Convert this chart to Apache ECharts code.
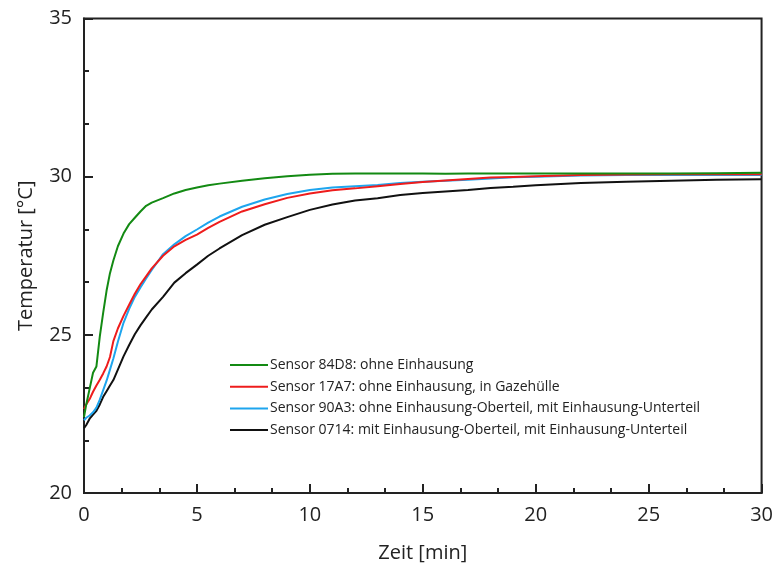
<!DOCTYPE html>
<html>
<head>
<meta charset="utf-8">
<script src="https://cdn.jsdelivr.net/npm/echarts@6/dist/echarts.min.js"></script>
<style>html,body{margin:0;padding:0;background:#fff}#c{width:776px;height:570px}</style>
</head>
<body>
<div id="c"></div>
<script>
var times = [0, 0.1, 0.25, 0.4, 0.55, 0.7, 0.85, 1.0, 1.15, 1.3, 1.5, 1.75, 2.0, 2.25, 2.5, 2.75, 3.0, 3.5, 4, 4.5, 5, 5.5, 6, 7, 8, 9, 10, 11, 12, 13, 14, 15, 16, 17, 18, 19, 20, 22, 24, 26, 28, 30];

var sensor84D8 = [22.4, 22.8, 23.3, 23.8, 24.0, 24.95, 25.7, 26.4, 26.95, 27.35, 27.8, 28.2, 28.5, 28.7, 28.9, 29.08, 29.18, 29.32, 29.47, 29.58, 29.66, 29.73, 29.78, 29.87, 29.95, 30.01, 30.06, 30.09, 30.1, 30.1, 30.1, 30.1, 30.09, 30.1, 30.1, 30.1, 30.1, 30.1, 30.1, 30.1, 30.11, 30.12];

var sensor17A7 = [22.65, 22.8, 22.97, 23.2, 23.4, 23.58, 23.78, 24.0, 24.3, 24.8, 25.2, 25.6, 25.95, 26.3, 26.6, 26.85, 27.1, 27.5, 27.8, 28.0, 28.17, 28.38, 28.57, 28.9, 29.13, 29.33, 29.47, 29.57, 29.63, 29.7, 29.77, 29.83, 29.88, 29.93, 29.97, 29.99, 30.01, 30.05, 30.07, 30.08, 30.08, 30.08];

var sensor90A3 = [22.3, 22.38, 22.45, 22.55, 22.7, 22.95, 23.25, 23.55, 23.9, 24.25, 24.78, 25.38, 25.82, 26.2, 26.5, 26.78, 27.05, 27.55, 27.86, 28.12, 28.33, 28.55, 28.74, 29.05, 29.28, 29.45, 29.58, 29.66, 29.7, 29.74, 29.8, 29.84, 29.87, 29.9, 29.94, 29.98, 30.0, 30.04, 30.05, 30.05, 30.05, 30.05];

var sensor0714 = [22.05, 22.15, 22.35, 22.48, 22.6, 22.8, 23.04, 23.22, 23.4, 23.57, 23.9, 24.32, 24.68, 25.02, 25.3, 25.55, 25.8, 26.2, 26.65, 26.95, 27.22, 27.5, 27.73, 28.15, 28.48, 28.72, 28.95, 29.12, 29.25, 29.32, 29.42, 29.48, 29.53, 29.58, 29.64, 29.68, 29.73, 29.8, 29.84, 29.87, 29.9, 29.92];

var seriesNames = [
  'Sensor 84D8: ohne Einhausung',
  'Sensor 17A7: ohne Einhausung, in Gazehülle',
  'Sensor 90A3: ohne Einhausung-Oberteil, mit Einhausung-Unterteil',
  'Sensor 0714: mit Einhausung-Oberteil, mit Einhausung-Unterteil'
];
var seriesValues = [sensor84D8, sensor17A7, sensor90A3, sensor0714];
var seriesColors = ['#138a13', '#ee1c1c', '#1ea5ee', '#111111'];

function pairs(vals) { return times.map(function (t, i) { return [t, vals[i]]; }); }

var font = 'Open Sans';
var chart = echarts.init(document.getElementById('c'), null, {renderer: 'canvas'});
chart.setOption({
  animation: false,
  backgroundColor: '#fff',
  textStyle: {fontFamily: font},
  grid: {left: 84, right: 13, top: 18.5, bottom: 77, show: true, borderColor: '#222', borderWidth: 2, backgroundColor: 'transparent'},
  legend: {
    orient: 'vertical', left: 225, top: 353, itemWidth: 38, itemHeight: 2, itemGap: 7.7,
    icon: 'rect',
    textStyle: {fontFamily: font, fontSize: 14, color: '#222', padding: [0, 0, 0, -3]},
    data: seriesNames
  },
  xAxis: {
    type: 'value', min: 0, max: 30, interval: 5,
    name: 'Zeit [min]', nameLocation: 'middle', nameGap: 50,
    nameTextStyle: {fontFamily: font, fontSize: 20, color: '#222'},
    axisLine: {show: true, lineStyle: {color: '#222', width: 2}},
    axisTick: {show: true, inside: true, length: 9, lineStyle: {color: '#222', width: 2}},
    minorTick: {show: true, splitNumber: 3, length: 5, lineStyle: {color: '#222', width: 2}},
    axisLabel: {fontFamily: font, fontSize: 20, color: '#222', margin: 12},
    splitLine: {show: false}
  },
  yAxis: {
    type: 'value', min: 20, max: 35, interval: 5,
    name: 'Temperatur [°C]', nameLocation: 'middle', nameGap: 48,
    nameTextStyle: {fontFamily: font, fontSize: 20, color: '#222'},
    axisLine: {show: true, lineStyle: {color: '#222', width: 2}},
    axisTick: {show: true, inside: true, length: 9, lineStyle: {color: '#222', width: 2}},
    minorTick: {show: true, splitNumber: 3, length: 5, lineStyle: {color: '#222', width: 2}},
    axisLabel: {fontFamily: font, fontSize: 20, color: '#222', margin: 12},
    splitLine: {show: false}
  },
  series: seriesNames.map(function (n, i) {
    return {
      name: n, type: 'line', data: pairs(seriesValues[i]), showSymbol: false, symbol: 'none',
      color: seriesColors[i], lineStyle: {color: seriesColors[i], width: 2}, z: 10 - i
    };
  })
});
</script>
</body>
</html>
